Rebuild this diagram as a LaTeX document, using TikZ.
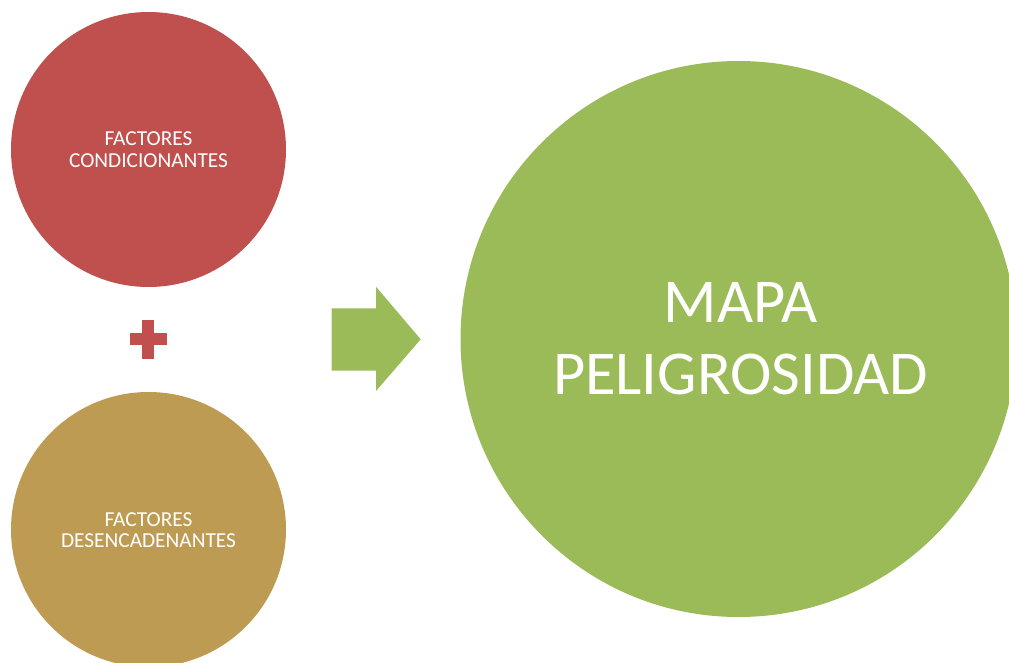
\documentclass[tikz,border=0pt]{standalone}
\usepackage{fontspec}
\setmainfont{Carlito}
\definecolor{redc}{HTML}{C0504D}
\definecolor{goldc}{HTML}{BE9B53}
\definecolor{greenc}{HTML}{9BBB59}
\tikzset{
  ball/.style={circle, inner sep=0pt, draw=none},
  smalltxt/.style={text=white, align=center, font=\fontsize{16pt}{16pt}\selectfont, inner sep=0pt},
  bigtxt/.style={text=white, align=center, font=\fontsize{46.8pt}{54pt}\selectfont, inner sep=0pt}
}
\begin{document}
\begin{tikzpicture}[x=0.75pt,y=-0.75pt]
\useasboundingbox (0,0) rectangle (1009,663);
\clip (0,0) rectangle (1009,663);
% circles
\node[ball, fill=redc, minimum size=206.25pt] (cond) at (148.5,149.5) {};
\node[ball, fill=goldc, minimum size=206.25pt] (desenc) at (148.5,529.5) {};
\node[ball, fill=greenc, minimum size=417pt] (mapa) at (738.5,339) {};
% texts
\node[smalltxt] (condtxt) at (148.5,149.5) {FACTORES\\CONDICIONANTES};
\node[smalltxt] (desenctxt) at (148.5,530) {FACTORES\\DESENCADENANTES};
\node[bigtxt] (mapatxt) at (740.5,338.5) {MAPA\\PELIGROSIDAD};
% plus sign
\coordinate (plus) at (148.5,339.5);
\fill[redc] (142.3,320) rectangle (154.3,359);
\fill[redc] (130,333.3) rectangle (167.3,345);
% block arrow
\coordinate (arr) at (376,339.3);
\fill[greenc] (331.7,308.3) -- (376,308.3) -- (376,286.7) -- (420.7,339.3)
  -- (376,391) -- (376,370.7) -- (331.7,370.7) -- cycle;
\end{tikzpicture}
\end{document}
